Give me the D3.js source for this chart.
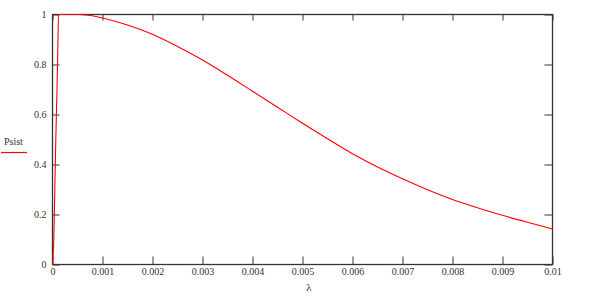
<!DOCTYPE html>
<html>
<head>
<meta charset="utf-8">
<script src="https://cdn.jsdelivr.net/npm/d3@7"></script>
<style>
  body { margin: 0; background: #fff; }
  text { font-family: "Liberation Serif", "Times New Roman", serif; }
</style>
</head>
<body>
<svg id="chart"></svg>
<script>
'use strict';

// Psist vs lambda
var lambda = [0, 0.000026, 0.000046, 0.000066, 0.00009, 0.00011, 0.00012, 0.0003, 0.0005,
  0.0006, 0.0008, 0.001, 0.0015, 0.002, 0.0025, 0.003, 0.0035, 0.004, 0.0045, 0.005,
  0.0055, 0.006, 0.0065, 0.007, 0.0075, 0.008, 0.0085, 0.009, 0.0095, 0.01];
var psist = [0, 0.1, 0.3, 0.5, 0.7, 0.9, 1, 1, 1,
  0.999, 0.995, 0.986, 0.958, 0.921, 0.872, 0.818, 0.757, 0.693, 0.629, 0.565,
  0.503, 0.443, 0.39, 0.343, 0.299, 0.26, 0.227, 0.197, 0.169, 0.142];

var xTicks = [0, 0.001, 0.002, 0.003, 0.004, 0.005, 0.006, 0.007, 0.008, 0.009, 0.01];
var xTickLabels = ['0', '0.001', '0.002', '0.003', '0.004', '0.005', '0.006', '0.007', '0.008', '0.009', '0.01'];
var yTicks = [0, 0.2, 0.4, 0.6, 0.8, 1];
var yTickLabels = ['0', '0.2', '0.4', '0.6', '0.8', '1'];

var width = 604, height = 300;
var plotLeft = 52.5, plotRight = 552.5, plotTop = 14.5, plotBottom = 264.5;
var serif = '"Liberation Serif", "Times New Roman", serif';

var svg = d3.select('#chart')
  .attr('width', width)
  .attr('height', height);

var x = d3.scaleLinear().domain([0, 0.01]).range([plotLeft, plotRight]);
var y = d3.scaleLinear().domain([0, 1]).range([plotBottom, plotTop]);

function styleAxis(g) {
  g.attr('font-family', serif);
  g.select('.domain').remove();
  g.selectAll('.tick line').attr('stroke', '#555').attr('stroke-width', 1.2);
  g.selectAll('.tick text')
    .attr('fill', '#333')
    .style('font-family', serif)
    .style('font-size', '10px');
}

// bottom + top
svg.append('g')
  .attr('transform', 'translate(0,' + plotBottom + ')')
  .call(d3.axisBottom(x).tickValues(xTicks).tickSizeInner(-8).tickSizeOuter(0)
    .tickPadding(3).tickFormat((d, i) => xTickLabels[i]))
  .call(styleAxis);
svg.append('g')
  .attr('transform', 'translate(0,' + plotTop + ')')
  .call(d3.axisTop(x).tickValues(xTicks).tickSizeInner(-6).tickSizeOuter(0).tickFormat(''))
  .call(styleAxis);

// left + right
svg.append('g')
  .attr('transform', 'translate(' + plotLeft + ',0)')
  .call(d3.axisLeft(y).tickValues(yTicks).tickSizeInner(-7).tickSizeOuter(0)
    .tickPadding(6).tickFormat((d, i) => yTickLabels[i]))
  .call(styleAxis);
svg.append('g')
  .attr('transform', 'translate(' + plotRight + ',0)')
  .call(d3.axisRight(y).tickValues(yTicks).tickSizeInner(-8).tickSizeOuter(0).tickFormat(''))
  .call(styleAxis);

// frame
svg.append('rect')
  .attr('x', plotLeft)
  .attr('y', plotTop)
  .attr('width', plotRight - plotLeft)
  .attr('height', plotBottom - plotTop)
  .attr('fill', 'none')
  .attr('stroke', '#333')
  .attr('stroke-width', 1.3);

var line = d3.line()
  .x((d, i) => x(lambda[i]))
  .y(d => y(d))
  .curve(d3.curveMonotoneX);

svg.append('path')
  .datum(psist)
  .attr('d', line)
  .attr('fill', 'none')
  .attr('stroke', '#ff0000')
  .attr('stroke-width', 1.1);

// x label
svg.append('text')
  .attr('x', 309)
  .attr('y', 291)
  .attr('text-anchor', 'middle')
  .attr('fill', '#333')
  .style('font-size', '11px')
  .text('λ');

// legend
svg.append('text')
  .attr('x', 4)
  .attr('y', 145)
  .attr('fill', '#333')
  .style('font-size', '10px')
  .text('Psist');
svg.append('line')
  .attr('x1', 1)
  .attr('x2', 27)
  .attr('y1', 152.5)
  .attr('y2', 152.5)
  .attr('stroke', '#ff0000')
  .attr('stroke-width', 1.2);
</script>
</body>
</html>
